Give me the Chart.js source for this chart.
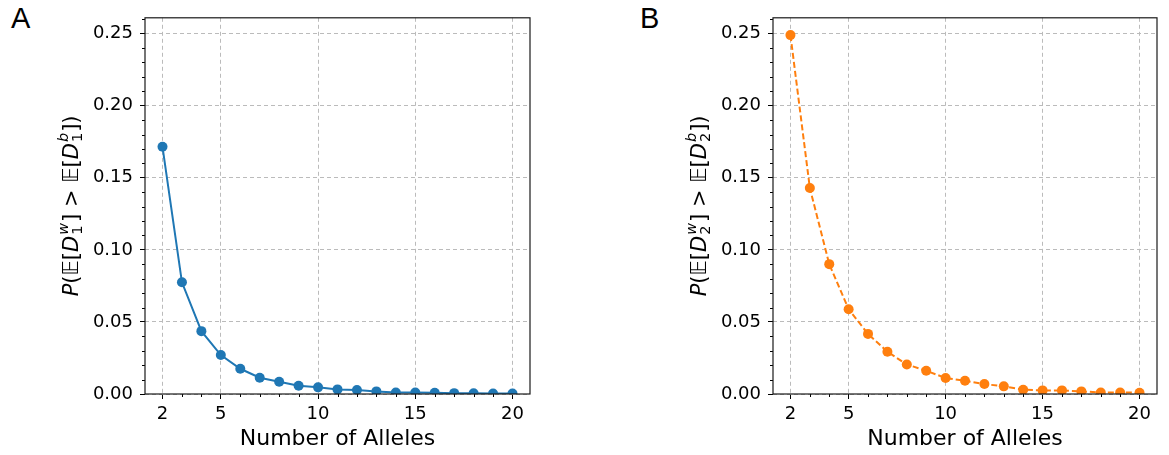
<!DOCTYPE html>
<html>
<head>
<meta charset="utf-8">
<script src="https://cdn.jsdelivr.net/npm/chart.js@4.4.0/dist/chart.umd.min.js"></script>
<style>
  html, body { margin: 0; padding: 0; background: #fff; }
  body { width: 1169px; height: 455px; position: relative; overflow: hidden; }
  .panel { position: absolute; top: 0; height: 455px; }
  #wrapA { left: 0; width: 584px; }
  #wrapB { left: 600px; width: 569px; }
  .letter { position: absolute; top: 4px; font: 29px "Liberation Sans", Arial, sans-serif; line-height: 29px; color: #000; }
</style>
</head>
<body>
<div class="letter" style="left:11px">A</div>
<div class="letter" style="left:640px">B</div>
<div id="wrapA" class="panel"><canvas id="chartA" width="584" height="455"></canvas></div>
<div id="wrapB" class="panel"><canvas id="chartB" width="569" height="455"></canvas></div>
<script>
// data
const alleles = [2, 3, 4, 5, 6, 7, 8, 9, 10, 11, 12, 13, 14, 15, 16, 17, 18, 19, 20];
const probD1 = [0.1715, 0.0775, 0.0436, 0.0270, 0.0175, 0.0113, 0.0085, 0.0057, 0.0046, 0.0032,
                0.0028, 0.0018, 0.0011, 0.0010, 0.0009, 0.0006, 0.0005, 0.0004, 0.0003];
const probD2 = [0.2490, 0.1429, 0.0901, 0.0588, 0.0417, 0.0293, 0.0205, 0.0161, 0.0111, 0.0092,
                0.0069, 0.0053, 0.0030, 0.0025, 0.0025, 0.0018, 0.0011, 0.0011, 0.0009];

const xMajorTicks = [2, 5, 10, 15, 20];
const xMinorTicks = [3, 4, 6, 7, 8, 9, 11, 12, 13, 14, 16, 17, 18, 19];
const yMajorTicks = [0, 0.05, 0.10, 0.15, 0.20, 0.25];
const yMinorTicks = [0.01, 0.02, 0.03, 0.04, 0.06, 0.07, 0.08, 0.09, 0.11, 0.12, 0.13, 0.14,
                     0.16, 0.17, 0.18, 0.19, 0.21, 0.22, 0.23, 0.24, 0.26];

Chart.defaults.font.family = '"DejaVu Sans", sans-serif';
Chart.defaults.color = '#000';

/* y label with math-ish pieces: P(E[D_i^w] > E[D_i^b]) */
function drawYLabel(ctx, cx, cy, idx) {
  const fs = 21, sm = 14.5;
  const reg = fs + 'px "DejaVu Sans"';
  const ita = 'italic ' + reg;
  const sReg = sm + 'px "DejaVu Sans"';
  const sIta = 'italic ' + sReg;
  const parts = [
    ['P', ita], ['(', reg], ['\u{1D53C}', ita], ['[', reg], ['D', ita], [idx, sReg, 'w', sIta],
    [']', reg], [' > ', reg], ['\u{1D53C}', ita], ['[', reg], ['D', ita], [idx, sReg, 'b', sIta],
    [']', reg], [')', reg]
  ];
  const widths = parts.map(p => {
    ctx.font = p[1];
    let w = ctx.measureText(p[0]).width;
    if (p[2]) { ctx.font = p[3]; w = Math.max(w, ctx.measureText(p[2]).width) + 2; }
    return w;
  });
  const total = widths.reduce((a, b) => a + b, 0);
  ctx.save();
  ctx.translate(cx, cy);
  ctx.rotate(-Math.PI / 2);
  ctx.fillStyle = '#000';
  ctx.textBaseline = 'alphabetic';
  ctx.textAlign = 'left';
  let x = -total / 2;
  const base = 7;
  parts.forEach((p, i) => {
    if (p[2]) {
      ctx.font = p[1];
      ctx.fillText(p[0], x + 1, base + 4);
      ctx.font = p[3];
      ctx.fillText(p[2], x + 1, base - 10);
    } else {
      ctx.font = p[1];
      ctx.fillText(p[0], x, base);
    }
    x += widths[i];
  });
  ctx.restore();
}

const axesFrame = {
  id: 'axesFrame',
  afterDraw(chart, args, opts) {
    const { ctx, chartArea: a, scales: { x, y } } = chart;
    ctx.save();
    ctx.strokeStyle = '#000';
    ctx.lineWidth = 1;
    ctx.beginPath();
    xMinorTicks.forEach(v => {
      const px = Math.round(x.getPixelForValue(v)) + 0.5;
      ctx.moveTo(px, a.bottom);
      ctx.lineTo(px, a.bottom + 3);
    });
    yMinorTicks.forEach(v => {
      if (v > y.max) return;
      const py = Math.round(y.getPixelForValue(v)) + 0.5;
      ctx.moveTo(a.left, py);
      ctx.lineTo(a.left - 3, py);
    });
    ctx.stroke();
    ctx.strokeStyle = '#1a1a1a';
    ctx.lineWidth = 1.2;
    ctx.strokeRect(a.left, a.top, a.right - a.left, a.bottom - a.top);
    ctx.restore();
    drawYLabel(ctx, a.left - 74, (a.top + a.bottom) / 2, opts.idx);
  }
};

function makeChart(id, values, color, dash, yWidth, padRight, idx) {
  return new Chart(document.getElementById(id), {
    type: 'line',
    data: {
      datasets: [{
        data: alleles.map((a, i) => ({ x: a, y: values[i] })),
        borderColor: color,
        backgroundColor: color,
        borderWidth: 2,
        borderDash: dash,
        pointRadius: 5,
        pointBorderWidth: 0,
        pointHoverRadius: 5,
        tension: 0,
        clip: 0
      }]
    },
    options: {
      responsive: false,
      animation: false,
      events: [],
      layout: { padding: { top: 17, right: padRight, bottom: 0, left: 0 } },
      plugins: {
        legend: { display: false },
        tooltip: { enabled: false },
        axesFrame: { idx: idx }
      },
      scales: {
        x: {
          type: 'linear',
          min: 1.1,
          max: 20.9,
          afterBuildTicks: s => { s.ticks = xMajorTicks.map(v => ({ value: v })); },
          afterFit: s => { s.height = 61; },
          ticks: { font: { size: 18 }, color: '#000', padding: 5, maxRotation: 0, autoSkip: false,
                   callback: v => String(v) },
          grid: { color: '#bbbbbb', lineWidth: 1, tickColor: '#000', tickLength: 5, tickWidth: 1,
                  tickBorderDash: [] },
          border: { display: false, dash: [4, 3] },
          title: { display: true, text: 'Number of Alleles', font: { size: 22 }, color: '#000',
                   padding: { top: 0, bottom: 3 } }
        },
        y: {
          min: 0,
          max: 0.261,
          afterBuildTicks: s => { s.ticks = yMajorTicks.map(v => ({ value: v })); },
          afterFit: s => { s.width = yWidth; },
          ticks: { font: { size: 18 }, color: '#000', padding: 7, autoSkip: false,
                   callback: v => v.toFixed(2) },
          grid: { color: '#bbbbbb', lineWidth: 1, tickColor: '#000', tickLength: 5, tickWidth: 1,
                  tickBorderDash: [] },
          border: { display: false, dash: [4, 3] }
        }
      }
    },
    plugins: [axesFrame]
  });
}

makeChart('chartA', probD1, '#1f77b4', [], 145, 54, '1');
makeChart('chartB', probD2, '#ff7f0e', [6, 3], 173, 12, '2');
</script>
</body>
</html>
